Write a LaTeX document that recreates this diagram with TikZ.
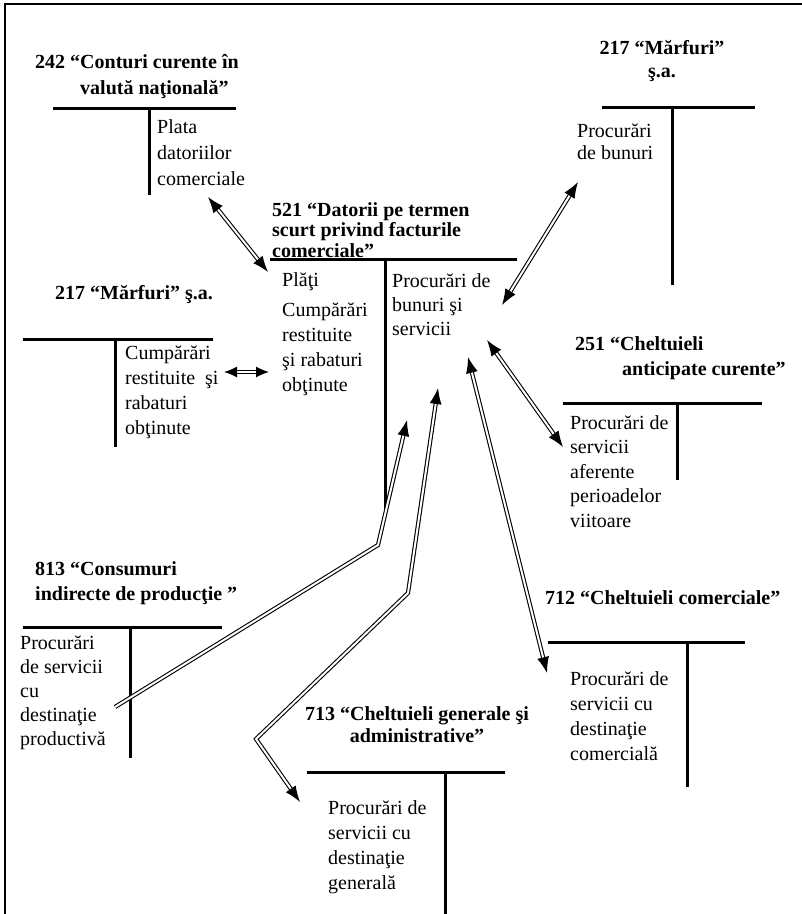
\documentclass[tikz,border=0pt]{standalone}
\usepackage{fontspec}
\setmainfont{Liberation Serif}
\usetikzlibrary{arrows.meta}
\begin{document}
\begin{tikzpicture}[x=1pt,y=-1pt,
  tbar/.style={line width=3pt},
  frame/.style={line width=1.8pt},
  % multi-line nodes are placed by the baseline of their last line
  title/.style={font=\fontsize{20}{24}\selectfont\bfseries, inner sep=0pt, align=left, anchor=base west},
  ctitle/.style={title, align=center, anchor=base},
  body/.style={font=\fontsize{20}{25}\selectfont, inner sep=0pt, align=left, anchor=base west},
  flow/.style={double, double distance=2pt, line width=1.1pt, line join=miter,
    >={Latex[length=16pt,width=12pt]}},
  ]
\useasboundingbox (0,0) rectangle (802,914);

% page frame (top and left rules)
\draw[frame] (802,4) -- (5,4) -- (5,914);

% ---- 242 ----
\node[title, font=\fontsize{20}{26}\selectfont\bfseries] (h242) at (35,94) {242 “Conturi curente în\\\hspace*{45pt}valută naţională”};
\draw[tbar] (53,108) -- (236,108);
\draw[tbar] (149,108) -- (149,195);
\node[body, font=\fontsize{20}{26}\selectfont] (b242) at (157,185) {Plata\\datoriilor\\comerciale};

% ---- 521 ----
\node[title, font=\fontsize{20}{20.5}\selectfont\bfseries] (h521) at (272,257) {521 “Datorii pe termen\\scurt privind facturile\\comerciale”};
\draw[tbar] (270,259) -- (517,259);
\draw[tbar] (385,259) -- (385,515);
\node[body] (d521) at (282,391) {Plăţi\\[5pt]Cumpărări\\restituite\\şi rabaturi\\obţinute};
\node[body, font=\fontsize{20}{24}\selectfont] (c521) at (392,335) {Procurări de\\bunuri şi\\servicii};

% ---- 217 (top right) ----
\node[ctitle, font=\fontsize{20}{23}\selectfont\bfseries] (h217a) at (662,77) {217 “Mărfuri”\\ş.a.};
\draw[tbar] (602,107) -- (755,107);
\draw[tbar] (672,107) -- (672,285);
\node[body, font=\fontsize{20}{22}\selectfont] (b217a) at (577,159) {Procurări\\de bunuri};

% ---- 217 (left) ----
\node[ctitle] (h217b) at (134,299) {217 “Mărfuri” ş.a.};
\draw[tbar] (23,339) -- (213,339);
\draw[tbar] (115,339) -- (115,447);
\node[body] (b217b) at (125,434) {Cumpărări\\restituite~ şi\\rabaturi\\obţinute};

% ---- 251 ----
\node[title, font=\fontsize{20}{25}\selectfont\bfseries] (h251) at (575,375) {251 “Cheltuieli\\\hspace*{47pt}anticipate curente”};
\draw[tbar] (563,403) -- (762,403);
\draw[tbar] (677,403) -- (677,480);
\node[body, font=\fontsize{20}{24.5}\selectfont] (b251) at (570,527) {Procurări de\\servicii\\aferente\\perioadelor\\viitoare};

% ---- 813 ----
\node[title, font=\fontsize{20}{25}\selectfont\bfseries] (h813) at (35,600) {813 “Consumuri\\indirecte de producţie ”};
\draw[tbar] (23,627) -- (222,627);
\draw[tbar] (130,627) -- (130,758);
\node[body, font=\fontsize{20}{24}\selectfont] (b813) at (20,745) {Procurări\\de servicii\\cu\\destinaţie\\productivă};

% ---- 712 ----
\node[title] (h712) at (545,604) {712 “Cheltuieli comerciale”};
\draw[tbar] (548,642) -- (745,642);
\draw[tbar] (687,642) -- (687,787);
\node[body] (b712) at (570,760) {Procurări de\\servicii cu\\destinaţie\\comercială};

% ---- 713 ----
\node[ctitle, font=\fontsize{20}{22}\selectfont\bfseries] (h713) at (417,742) {713 “Cheltuieli generale şi\\administrative”};
\draw[tbar] (307,772) -- (505,772);
\draw[tbar] (445,772) -- (445,914);
\node[body, font=\fontsize{20}{24.7}\selectfont] (b713) at (328,889) {Procurări de\\servicii cu\\destinaţie\\generală};

% ---- arrow end points ----
\coordinate (p242) at (208,197);
\coordinate (q242) at (268,272);
\coordinate (p217a) at (578,182);
\coordinate (q217a) at (502,305);
\coordinate (p251) at (563,447);
\coordinate (q251) at (487,340);
\coordinate (p712) at (547,673);
\coordinate (q712) at (468,357);
\coordinate (p713) at (300,802);
\coordinate (k713a) at (256,739);
\coordinate (k713b) at (408,593);
\coordinate (q713) at (438,388);
\coordinate (p813) at (115,707);
\coordinate (k813) at (378,545);
\coordinate (q813) at (407,420);
\coordinate (p217b) at (224,372);
\coordinate (q217b) at (269,372);

% ---- double-line flows ----
\draw[flow,<->] (p242) -- (q242);
\draw[flow,<->] (q217a) -- (p217a);
\draw[flow,<->] (q251) -- (p251);
\draw[flow,<->] (q712) -- (p712);
\draw[flow,<->] (q713) -- (k713b) -- (k713a) -- (p713);
\draw[flow,->] (p813) -- (k813) -- (q813);
\draw[flow,<->,>={Latex[length=13pt,width=11pt]}] (p217b) -- (q217b);
\end{tikzpicture}
\end{document}
